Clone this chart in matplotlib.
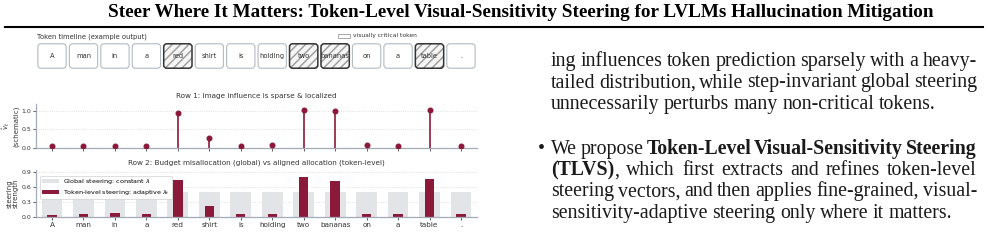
import numpy as np
import matplotlib
matplotlib.use("Agg")
import matplotlib.pyplot as plt
from matplotlib.patches import FancyBboxPatch, Rectangle
from matplotlib.lines import Line2D

# ---------------------------------------------
# data
# ---------------------------------------------
tokens = ["A", "man", "in", "a", "red", "shirt", "is", "holding",
          "two", "bananas", "on", "a", "table", "."]
critical = [0, 0, 0, 0, 1, 0, 0, 0, 1, 1, 0, 0, 1, 0]
influence = [0.06, 0.06, 0.05, 0.06, 0.95, 0.27, 0.06, 0.07,
             1.03, 0.98, 0.07, 0.06, 1.03, 0.05]
global_lam = [0.5, 0.5, 0.5, 0.5, 0.5, 0.5, 0.5, 0.5,
              0.5, 0.5, 0.5, 0.5, 0.5, 0.5]
token_lam = [0.03, 0.05, 0.07, 0.05, 0.73, 0.22, 0.05, 0.05,
             0.79, 0.71, 0.05, 0.05, 0.75, 0.05]
row1_ticks = [0.0, 0.5, 1.0]
row2_ticks = [0.0, 0.3, 0.6, 0.9]

title = ("Steer Where It Matters: Token-Level Visual-Sensitivity Steering "
         "for LVLMs Hallucination Mitigation")
# each line: list of words, each word a list of (text, bold) pieces
para_lines = [
    "ing influences token prediction sparsely with a heavy-",
    "tailed distribution, while step-invariant global steering",
    "unnecessarily perturbs many non-critical tokens.",
]
bullet_lines = [
    [[("We", 0)], [("propose", 0)], [("Token-Level", 1)],
     [("Visual-Sensitivity", 1)], [("Steering", 1)]],
    [[("(TLVS)", 1), (",", 0)], [("which", 0)], [("first", 0)], [("extracts", 0)],
     [("and", 0)], [("refines", 0)], [("token-level", 0)]],
    "steering vectors, and then applies fine-grained, visual-",
    "sensitivity-adaptive steering only where it matters.",
]

RED = "#8b1a3a"
GREY_BAR = "#e2e4e7"
SPINE = "#a3acb6"
W, H = 988, 244


def box(l, t, r, b):
    return [l / W, 1 - b / H, (r - l) / W, (b - t) / H]


fig = plt.figure(figsize=(W / 100, H / 100), dpi=100)
renderer = fig.canvas.get_renderer()

fig.text(520.5 / W, 1 - 12.5 / H, title, ha="center", va="center",
         family="Liberation Serif", weight="bold", size=13.8)
fig.add_artist(Line2D([5 / W, 983 / W], [1 - 26.5 / H] * 2, lw=1.5, color="black"))

x = np.arange(len(tokens))
XL, XR = 36.3, 476.7

# ---------------------------------------------
# token timeline
# ---------------------------------------------
ax0 = fig.add_axes(box(XL, 43, XR, 69))
ax0.set_xlim(-0.5, len(tokens) - 0.5)
ax0.set_ylim(0, 1)
ax0.axis("off")
asp = (31.46 / 26)
for i, tok in enumerate(tokens):
    if critical[i]:
        hp = FancyBboxPatch((i - 0.45, 0.03), 0.9, 0.94,
                            boxstyle="round,pad=0,rounding_size=0.1",
                            mutation_aspect=asp, facecolor="#f5f5f5",
                            edgecolor="#9a9a9a", hatch="////", lw=0, clip_on=False)
        ax0.add_patch(hp)
        ax0.add_patch(FancyBboxPatch((i - 0.45, 0.03), 0.9, 0.94,
                                     boxstyle="round,pad=0,rounding_size=0.1",
                                     mutation_aspect=asp, fill=False,
                                     edgecolor="#333333", lw=1.1, clip_on=False))
    else:
        ax0.add_patch(FancyBboxPatch((i - 0.45, 0.03), 0.9, 0.94,
                                     boxstyle="round,pad=0,rounding_size=0.1",
                                     mutation_aspect=asp, facecolor="white",
                                     edgecolor="#b3bac2", lw=0.8, clip_on=False))
    ax0.text(i, 0.5, tok, ha="center", va="center", size=4.9, color="#333333")

fig.text(37 / W, 1 - 37 / H, "Token timeline (example output)", ha="left",
         va="center", size=4.9, color="#333333")
fig.add_artist(Rectangle((338 / W, 1 - 37.5 / H), 12 / W, 3.5 / H,
                         facecolor="white", edgecolor="#9a9a9a", lw=0.6))
fig.text(353 / W, 1 - 35.8 / H, "visually critical token", ha="left",
         va="center", size=4.3, color="#333333")


def style(ax):
    for s in ["top", "right"]:
        ax.spines[s].set_visible(False)
    for s in ["left", "bottom"]:
        ax.spines[s].set_color(SPINE)
        ax.spines[s].set_linewidth(0.9)
    ax.tick_params(labelsize=4.5, length=2, width=0.6, color="#444444",
                   labelcolor="#333333", pad=1.5)
    ax.yaxis.grid(True, linestyle=":", color="#d6d6d6", lw=0.6)
    ax.set_axisbelow(True)
    ax.set_xlim(-0.5, len(tokens) - 0.5)


# ---------------------------------------------
# row 1
# ---------------------------------------------
ax1 = fig.add_axes(box(XL, 104, XR, 148))
style(ax1)
ax1.vlines(x, 0, influence, color=RED, lw=1.2, zorder=2)
ax1.plot(x, influence, "o", ms=3.3, color=RED, zorder=3)
ax1.set_ylim(0, 1.18)
ax1.set_yticks(row1_ticks)
ax1.set_yticklabels([f"{v:.1f}" for v in row1_ticks])
ax1.set_xticks(x)
ax1.set_xticklabels([])
ax1.set_title("Row 1: Image influence is sparse & localized", size=5.2,
              color="#333333", pad=4)
ax1.set_ylabel("$\\hat{v}_t$\n(schematic)", size=5, color="#333333",
               labelpad=2, linespacing=1.0)

# ---------------------------------------------
# row 2
# ---------------------------------------------
ax2 = fig.add_axes(box(XL, 170, XR, 216.7))
style(ax2)
ax2.bar(x, global_lam, width=0.66, color=GREY_BAR, zorder=1,
        label="Global steering: constant $\\lambda$")
ax2.bar(x, token_lam, width=0.3, color=RED, zorder=2,
        label="Token-level steering: adaptive $\\lambda_t$")
ax2.set_ylim(0, 0.93)
ax2.set_yticks(row2_ticks)
ax2.set_yticklabels([f"{v:.1f}" for v in row2_ticks])
ax2.set_xticks(x)
ax2.set_xticklabels(tokens, size=5.2)
ax2.set_title("Row 2: Budget misallocation (global) vs aligned allocation (token-level)",
              size=5.2, color="#333333", pad=4)
ax2.set_ylabel("steering\nstrength", size=5, color="#333333", labelpad=2,
               linespacing=1.0)
leg = ax2.legend(loc="upper left", fontsize=4.6, frameon=True, framealpha=0.9,
                 edgecolor="#cccccc", borderpad=0.3, handlelength=2.6,
                 handleheight=0.7, handletextpad=0.6, labelspacing=0.25,
                 bbox_to_anchor=(0.002, 0.95))
leg.get_frame().set_linewidth(0.5)

# ---------------------------------------------
# right column text
# ---------------------------------------------
BODY = dict(family="Liberation Serif", size=14.3, color="#1a1a1a")
X0, X1 = 551, 977


def to_words(line):
    if isinstance(line, str):
        return [[(w, 0)] for w in line.split(" ")]
    return line


def put_line(line, ybase, justify):
    words = to_words(line)
    placed = []
    for wd in words:
        parts = []
        for txt, bold in wd:
            t = fig.text(0, 1 - ybase / H, txt, ha="left", va="baseline",
                         weight="bold" if bold else "normal", **BODY)
            parts.append((t, t.get_window_extent(renderer).width))
        placed.append(parts)
    widths = [sum(p[1] for p in parts) for parts in placed]
    gap = (X1 - X0 - sum(widths)) / (len(placed) - 1) if justify else 4.6
    xx = X0
    for parts, wsum in zip(placed, widths):
        xp = xx
        for t, w in parts:
            t.set_x(xp / W)
            xp += w
        xx += wsum + gap


for k, line in enumerate(para_lines):
    put_line(line, 66 + 21.5 * k, k < len(para_lines) - 1)

fig.text(538 / W, 1 - 154 / H, "\u2022", ha="left", va="baseline", **BODY)
for k, line in enumerate(bullet_lines):
    put_line(line, 154 + 21.2 * k, k < len(bullet_lines) - 1)

fig.savefig("out.png", dpi=100)
